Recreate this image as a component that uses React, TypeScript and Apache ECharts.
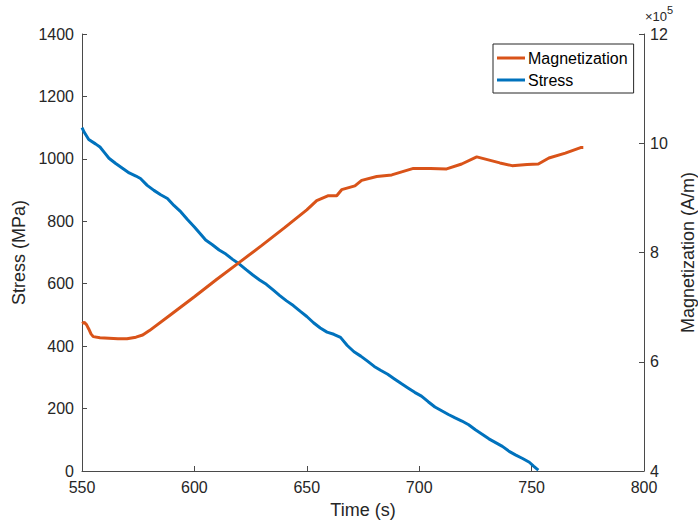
import React, { useEffect, useRef } from "react";
import * as echarts from "echarts";

const xTicks = [550, 600, 650, 700, 750, 800];
const stressTicks = [0, 200, 400, 600, 800, 1000, 1200, 1400];
const magTicks = [4, 6, 8, 10, 12];

const stressTime = [550, 551, 553, 556, 558, 560, 562, 565, 568, 571, 574, 576, 579, 582, 585, 588, 591, 594, 597, 600, 603, 605, 608, 611, 614, 617, 620, 623, 626, 629, 632, 635, 638, 641, 644, 647, 650, 653, 656, 659, 662, 665, 668, 671, 674, 677, 680, 683, 686, 689, 692, 695, 698, 701, 704, 707, 710, 713, 716, 719, 722, 725, 728, 731, 734, 737, 740, 743, 746, 749, 751, 753];
const stressValues = [1100, 1085, 1062, 1048, 1038, 1020, 1002, 985, 970, 955, 945, 937, 915, 899, 885, 873, 850, 830, 805, 782, 757, 740, 725, 708, 695, 678, 663, 645, 628, 612, 598, 580, 562, 545, 530, 512, 495, 475, 458, 445, 438, 428, 402, 382, 368, 352, 335, 322, 310, 295, 280, 266, 252, 240, 222, 205, 193, 181, 170, 160, 148, 132, 118, 103, 91, 79, 63, 51, 40, 28, 15, 3];

// Magnetization in units of 1e5 A/m
const magTime = [550, 551, 552, 553, 554, 555, 558, 562, 566, 570, 574, 577, 580, 590, 600, 610, 620, 630, 640, 650, 654.4, 659.6, 663.3, 665.5, 671.4, 674.4, 681.1, 687.8, 697.4, 705, 712.2, 718.9, 725.6, 735.9, 741.3, 748, 753, 757.7, 765, 771.8, 773];
const magValues = [6.70, 6.72, 6.68, 6.60, 6.51, 6.46, 6.44, 6.43, 6.42, 6.42, 6.45, 6.49, 6.57, 6.88, 7.19, 7.51, 7.82, 8.13, 8.45, 8.78, 8.95, 9.04, 9.04, 9.15, 9.22, 9.32, 9.39, 9.42, 9.54, 9.54, 9.53, 9.62, 9.75, 9.64, 9.59, 9.61, 9.62, 9.73, 9.82, 9.92, 9.92];

const FONT = "Liberation Sans, Arial, Helvetica, sans-serif";
const TXT = "#262626";
const AX = "#4a4a4a";

export default function App() {
  const ref = useRef<HTMLDivElement>(null);
  useEffect(() => {
    document.body.style.margin = "0";
    const chart = echarts.init(ref.current!, undefined, { renderer: "svg" });
    const axisCommon = {
      axisLine: { show: true, lineStyle: { color: AX, width: 1 } },
      axisTick: { show: true, inside: true, length: 5, lineStyle: { color: AX } },
      splitLine: { show: false },
      axisLabel: { color: TXT, fontSize: 16, fontFamily: FONT, formatter: (v: number) => String(v) },
      nameTextStyle: { color: TXT, fontSize: 18, fontFamily: FONT },
    };
    chart.setOption({
      animation: false,
      backgroundColor: "#ffffff",
      grid: { left: 82, right: 54, top: 34, bottom: 58, containLabel: false, outerBoundsMode: "none" },
      xAxis: {
        type: "value",
        min: xTicks[0],
        max: xTicks[xTicks.length - 1],
        interval: 50,
        name: "Time (s)",
        nameLocation: "middle",
        nameGap: 30,
        ...axisCommon,
        axisLabel: { ...axisCommon.axisLabel, margin: 8 },
      },
      yAxis: [
        {
          type: "value",
          min: stressTicks[0],
          max: stressTicks[stressTicks.length - 1],
          interval: 200,
          name: "Stress (MPa)",
          nameLocation: "middle",
          nameRotate: 90,
          nameGap: 43,
          position: "left",
          ...axisCommon,
          axisLabel: { ...axisCommon.axisLabel, margin: 8 },
        },
        {
          type: "value",
          min: magTicks[0],
          max: magTicks[magTicks.length - 1],
          interval: 2,
          name: "Magnetization (A/m)",
          nameLocation: "middle",
          nameRotate: 90,
          nameGap: 34,
          position: "right",
          ...axisCommon,
          axisLabel: { ...axisCommon.axisLabel, margin: 6 },
        },
      ],
      legend: {
        data: ["Magnetization", "Stress"],
        orient: "vertical",
        left: 493,
        top: 44,
        padding: [6, 6, 5, 4],
        itemGap: 6,
        itemWidth: 28,
        itemHeight: 3,
        icon: "rect",
        borderColor: "#262626",
        borderWidth: 1,
        backgroundColor: "#ffffff",
        textStyle: { color: "#000", fontSize: 16, fontFamily: FONT, padding: [0, 0, 0, -2] },
      },
      graphic: [
        {
          type: "text",
          left: 645,
          top: 10,
          style: { text: "×10", fontSize: 13, fontFamily: FONT, fill: TXT },
        },
        {
          type: "text",
          left: 667,
          top: 4,
          style: { text: "5", fontSize: 11, fontFamily: FONT, fill: TXT },
        },
      ],
      series: [
        {
          name: "Stress",
          type: "line",
          yAxisIndex: 0,
          data: stressTime.map((t, i) => [t, stressValues[i]]),
          showSymbol: false,
          lineStyle: { color: "#0072BD", width: 3 },
          itemStyle: { color: "#0072BD" },
        },
        {
          name: "Magnetization",
          type: "line",
          yAxisIndex: 1,
          data: magTime.map((t, i) => [t, magValues[i]]),
          showSymbol: false,
          lineStyle: { color: "#D95319", width: 3 },
          itemStyle: { color: "#D95319" },
        },
      ],
    });
    return () => chart.dispose();
  }, []);
  return <div ref={ref} style={{ width: 698, height: 529 }} />;
}
